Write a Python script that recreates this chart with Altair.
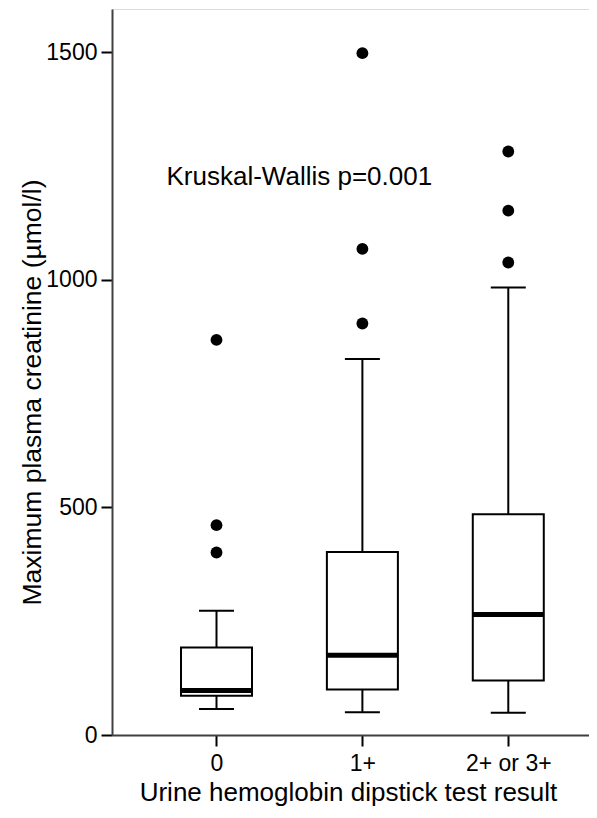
import altair as alt
import pandas as pd

categories = ["0", "1+", "2+ or 3+"]
whisker_low = [57, 50, 49]
q1 = [86, 100, 120]
median = [98, 175, 265]
q3 = [192, 402, 485]
whisker_high = [273, 826, 983]

outlier_group = ["0", "0", "0", "1+", "1+", "1+", "2+ or 3+", "2+ or 3+", "2+ or 3+"]
outlier_value = [401, 461, 868, 904, 1068, 1498, 1038, 1152, 1282]

annotation_text = ["Kruskal-Wallis p=0.001"]
annotation_group = ["0"]
annotation_y = [1209]

FONT = "Liberation Sans"

pos = {c: i for i, c in enumerate(categories)}

box_df = pd.DataFrame({
    "group": categories, "pos": [pos[c] for c in categories],
    "low": whisker_low, "q1": q1, "median": median, "q3": q3, "high": whisker_high,
})
out_df = pd.DataFrame({
    "group": outlier_group, "pos": [pos[c] for c in outlier_group], "value": outlier_value,
})
ann_df = pd.DataFrame({
    "pos": [pos[c] for c in annotation_group], "label": annotation_text, "y": annotation_y,
})

label_expr = " : ".join(
    [f"datum.value == {i} ? '{c}'" for i, c in enumerate(categories)] + ["''"]
)

x_scale = alt.Scale(domain=[-0.682, 2.519], nice=False, zero=False)
y_scale = alt.Scale(domain=[0, 1595], nice=False, zero=True)

x_axis = alt.Axis(
    title="Urine hemoglobin dipstick test result",
    values=list(range(len(categories))), labelExpr=label_expr,
    labelAngle=0, labelFontSize=23, titleFontSize=26,
    labelFont=FONT, titleFont=FONT, labelColor="black", titleColor="black",
    domainColor="#404040", domainWidth=2, tickColor="black", tickWidth=2,
    tickSize=11, labelPadding=6, titleFontWeight="normal",
    titleBaseline="alphabetic", titleX=236, titleY=65, titleAlign="center",
    grid=False, labelFlush=False, labelOverlap=False,
)
y_axis = alt.Axis(
    title="Maximum plasma creatinine (µmol/l)", format="d",
    values=[0, 500, 1000, 1500], labelFontSize=23, titleFontSize=26.5,
    labelFont=FONT, titleFont=FONT, labelColor="black", titleColor="black",
    domainColor="#404040", domainWidth=2, tickColor="black", tickWidth=2,
    tickSize=11, labelPadding=4, titleFontWeight="normal",
    titleAngle=270, titleBaseline="alphabetic", titleAlign="center",
    titleX=-72, titleY=383, grid=False, labelFlush=False,
)

X = lambda: alt.X("pos:Q", scale=x_scale)

whiskers = alt.Chart(box_df).mark_rule(color="black", strokeWidth=2).encode(
    x=alt.X("pos:Q", scale=x_scale, axis=x_axis),
    y=alt.Y("low:Q", scale=y_scale, axis=y_axis),
    y2="high:Q",
)
boxes = alt.Chart(box_df).mark_bar(
    size=71, fill="white", stroke="black", strokeWidth=2, opacity=1
).encode(
    x=X(), y=alt.Y("q1:Q", scale=y_scale), y2="q3:Q",
)
medians = alt.Chart(box_df).mark_tick(
    color="black", size=71, thickness=5, orient="horizontal", opacity=1
).encode(x=X(), y=alt.Y("median:Q", scale=y_scale))
cap_low = alt.Chart(box_df).mark_tick(
    color="black", size=35, thickness=2, orient="horizontal", opacity=1
).encode(x=X(), y=alt.Y("low:Q", scale=y_scale))
cap_high = alt.Chart(box_df).mark_tick(
    color="black", size=35, thickness=2, orient="horizontal", opacity=1
).encode(x=X(), y=alt.Y("high:Q", scale=y_scale))
outliers = alt.Chart(out_df).mark_circle(size=140, color="black", opacity=1).encode(
    x=X(), y=alt.Y("value:Q", scale=y_scale),
)
annotation = alt.Chart(ann_df).mark_text(
    align="left", baseline="alphabetic", dx=-50, fontSize=26, font=FONT, color="black"
).encode(x=X(), y=alt.Y("y:Q", scale=y_scale), text="label:N")

chart = alt.layer(
    whiskers, boxes, medians, cap_low, cap_high, outliers, annotation
).properties(
    width=477, height=726,
    autosize=alt.AutoSizeParams(type="none"),
    padding={"left": 104, "top": 1, "right": 0, "bottom": 75},
).configure_view(stroke=None).configure(background="white")

chart.save("out.html", embed_options={"renderer": "svg", "actions": False})
